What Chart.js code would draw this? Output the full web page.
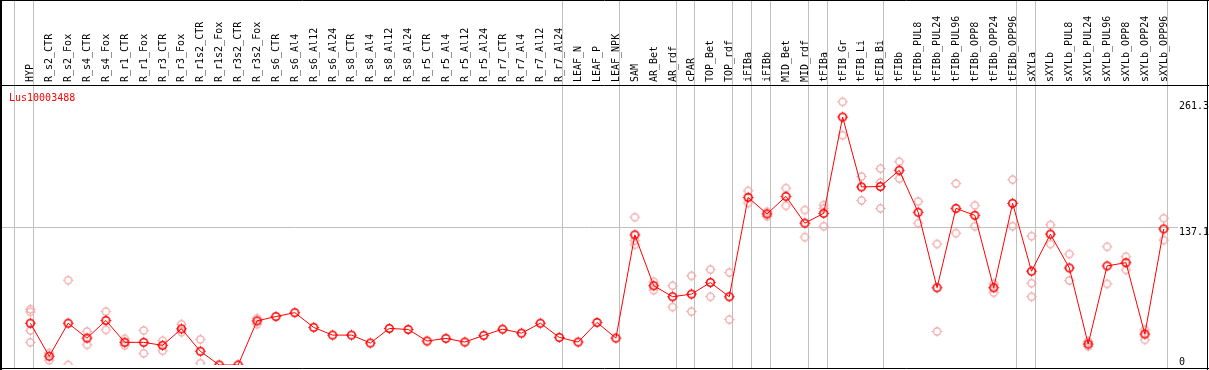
<!DOCTYPE html>
<html>
<head>
<meta charset="utf-8">
<style>
  html, body { margin: 0; padding: 0; background: #fff; }
  canvas { display: block; }
</style>
<script src="https://cdn.jsdelivr.net/npm/chart.js@4/dist/chart.umd.min.js"></script>
</head>
<body>
<canvas id="geneChart" width="1209" height="370"></canvas>
<script>
// sample names (one column each)
const categories = [
  'HYP', 'R_s2_CTR', 'R_s2_Fox', 'R_s4_CTR', 'R_s4_Fox', 'R_r1_CTR', 'R_r1_Fox', 'R_r3_CTR', 'R_r3_Fox',
  'R_r1s2_CTR', 'R_r1s2_Fox', 'R_r3s2_CTR', 'R_r3s2_Fox', 'R_s6_CTR', 'R_s6_Al4', 'R_s6_Al12', 'R_s6_Al24',
  'R_s8_CTR', 'R_s8_Al4', 'R_s8_Al12', 'R_s8_Al24', 'R_r5_CTR', 'R_r5_Al4', 'R_r5_Al12', 'R_r5_Al24',
  'R_r7_CTR', 'R_r7_Al4', 'R_r7_Al12', 'R_r7_Al24', 'LEAF_N', 'LEAF_P', 'LEAF_NPK', 'SAM', 'AR_Bet', 'AR_rdf',
  'cPAR', 'TOP_Bet', 'TOP_rdf', 'iFIBa', 'iFIBb', 'MID_Bet', 'MID_rdf', 'tFIBa', 'tFIB_Gr', 'tFIB_Li', 'tFIB_Bi',
  'tFIBb', 'tFIBb_PUL8', 'tFIBb_PUL24', 'tFIBb_PUL96', 'tFIBb_OPP8', 'tFIBb_OPP24', 'tFIBb_OPP96',
  'sXYLa', 'sXYLb', 'sXYLb_PUL8', 'sXYLb_PUL24', 'sXYLb_PUL96', 'sXYLb_OPP8', 'sXYLb_OPP24', 'sXYLb_OPP96'
];

// mean expression (red line)
const meanValues = [
  41.5, 8.7, 41.5, 26.7, 44.2, 22.5, 22.5, 19.5, 35.9, 13.6, 0, 0, 43.8, 48.1, 52.0, 37.3, 29.7,
  29.7, 21.8, 36.3, 35.3, 23.8, 26.4, 22.8, 29.4, 35.6, 31.6, 41.5, 27.4, 22.8, 42.2, 26.7, 129.2, 78.7, 67.8,
  70.4, 81.9, 67.8, 166.4, 150.0, 167.4, 140.8, 150.6, 246.2, 176.8, 177.2,
  193.3, 151.6, 76.7, 155.5, 148.6, 76.7, 160.5,
  93.1, 129.9, 96.4, 20.8, 98.4, 101.6, 30.7, 135.1
];

// single replicates (pink circles), null = none
const rep1 = [
  55.3, 11.9, 84.2, 33.3, 53.0, 26.0, 34.3, 24.1, 40.5, 25.4, null, null, 46.4, null, null, null, null,
  null, null, null, null, null, null, null, null, null, null, null, null, null, null, null, 146.7, 82.6, 78.7,
  88.5, 94.7, 91.8, 172.9, 152.2, 175.6, 153.9, 158.8, 261.3, 187.1, 195.0,
  201.9, 162.4, 120.1, 180.2, 158.5, 80.6, 184.1,
  127.9, 139.1, 110.2, 23.5, 117.4, 107.5, 34.9, 145.7
];
const rep2 = [
  22.5, 4.7, 0, 20.1, 34.9, 19.5, 11.6, 14.2, 32.6, 1.8, null, null, 40.5, null, null, null, null,
  null, null, null, null, null, null, null, null, null, null, null, null, null, null, null, 119.4, 74.3, 57.6,
  53.0, 67.8, 45.1, 160.8, 147.7, 158.1, 127.0, 137.8, 228.1, 163.4, 155.5,
  185.1, 140.8, 33.3, 130.9, 137.8, 71.8, 137.8,
  67.8, 120.1, 83.9, 18.5, 80.6, 94.4, 25.0, 124.0
];
const rep3 = { 0: 52.8, 32: 123.6, 42: 155.5, 45: 181.2, 53: 81.2 };
const rep4 = { 0: 34.3 };

// right side tick labels and group separators (after these columns)
const yTicks = [261.3, 137.1, 0];
const gridValue = 137.1;
const groupEnds = [-1, 0, 28, 31, 34, 35, 37, 38, 39, 41, 42, 45, 52, 53, 60];
const geneName = 'Lus10003488';

const FONT = '10px "DejaVu Sans Mono", monospace';

// marker: circle with four little ticks
function makeMarker(color, r, lw) {
  const c = document.createElement('canvas');
  c.width = 13; c.height = 13;
  const g = c.getContext('2d');
  g.strokeStyle = color;
  g.lineWidth = lw;
  g.beginPath();
  g.arc(6.5, 6.5, r, 0, Math.PI * 2);
  g.stroke();
  g.lineWidth = 1;
  g.beginPath();
  g.moveTo(6.5, 6.5 - r - 1.5); g.lineTo(6.5, 6.5 - r);
  g.moveTo(6.5, 6.5 + r); g.lineTo(6.5, 6.5 + r + 1.5);
  g.moveTo(6.5 - r - 1.5, 6.5); g.lineTo(6.5 - r, 6.5);
  g.moveTo(6.5 + r, 6.5); g.lineTo(6.5 + r + 1.5, 6.5);
  g.stroke();
  return c;
}
const mainMarker = makeMarker('#ff0000', 3.8, 1.6);
const repMarker = makeMarker('#f0a0a0', 3.6, 1.2);

const toPoints = arr => arr.map((v, i) => ({ x: i, y: v })).filter(p => p.y !== null);
const fromMap = m => Object.keys(m).map(k => ({ x: +k, y: m[k] }));

// frame, labels and grid lines
const decorPlugin = {
  id: 'decor',
  beforeDatasetsDraw(chart) {
    const { ctx, scales: { x, y } } = chart;
    ctx.save();
    ctx.strokeStyle = '#c0c0c0';
    ctx.lineWidth = 1;
    groupEnds.forEach(i => {
      const px = Math.round(x.getPixelForValue(i)) + 3.5;
      ctx.beginPath();
      ctx.moveTo(px, 0);
      ctx.lineTo(px, 368);
      ctx.stroke();
    });
    const gy = Math.round(y.getPixelForValue(gridValue)) + 0.5;
    ctx.beginPath();
    ctx.moveTo(1, gy);
    ctx.lineTo(1178, gy);
    ctx.stroke();

    // frame
    ctx.strokeStyle = '#000';
    ctx.beginPath();
    ctx.moveTo(0, 0.5); ctx.lineTo(1209, 0.5);
    ctx.moveTo(0, 85.5); ctx.lineTo(1209, 85.5);
    ctx.moveTo(0, 368.5); ctx.lineTo(1209, 368.5);
    ctx.moveTo(1207.5, 0); ctx.lineTo(1207.5, 370);
    ctx.stroke();
    ctx.lineWidth = 2;
    ctx.beginPath();
    ctx.moveTo(1, 0); ctx.lineTo(1, 370);
    ctx.stroke();

    // rotated column names
    ctx.font = FONT;
    ctx.fillStyle = '#000';
    ctx.textAlign = 'left';
    ctx.textBaseline = 'alphabetic';
    categories.forEach((name, i) => {
      ctx.save();
      ctx.translate(x.getPixelForValue(i) + 3, 82);
      ctx.rotate(-Math.PI / 2);
      ctx.fillText(name, 0, 0);
      ctx.restore();
    });

    // right axis labels
    ctx.textBaseline = 'middle';
    yTicks.forEach(v => {
      const ty = Math.min(y.getPixelForValue(v) + 5, 362);
      ctx.fillText(String(v), 1179, ty);
    });

    ctx.fillStyle = '#ff0000';
    ctx.textBaseline = 'alphabetic';
    ctx.fillText(geneName, 9, 101);
    ctx.restore();
  }
};

const repStyle = {
  showLine: false,
  pointStyle: repMarker,
  pointRadius: 4,
  clip: { left: 5, top: 5, right: 5, bottom: 0 }
};

new Chart(document.getElementById('geneChart'), {
  type: 'line',
  data: {
    datasets: [
      {
        label: geneName,
        data: toPoints(meanValues),
        borderColor: '#ff0000',
        borderWidth: 1,
        tension: 0,
        pointStyle: mainMarker,
        pointRadius: 4,
        clip: { left: 5, top: 5, right: 5, bottom: 0 }
      },
      Object.assign({ data: toPoints(rep1) }, repStyle),
      Object.assign({ data: toPoints(rep2) }, repStyle),
      Object.assign({ data: fromMap(rep3) }, repStyle),
      Object.assign({ data: fromMap(rep4) }, repStyle)
    ]
  },
  options: {
    responsive: false,
    animation: false,
    layout: { padding: { left: 1, top: 85, right: 2, bottom: 3 } },
    plugins: { legend: { display: false }, tooltip: { enabled: false } },
    scales: {
      x: { type: 'linear', min: -1.3421, max: 62.1316, display: false },
      y: { min: 0, max: 278, display: false }
    }
  },
  plugins: [decorPlugin]
});
</script>
</body>
</html>
